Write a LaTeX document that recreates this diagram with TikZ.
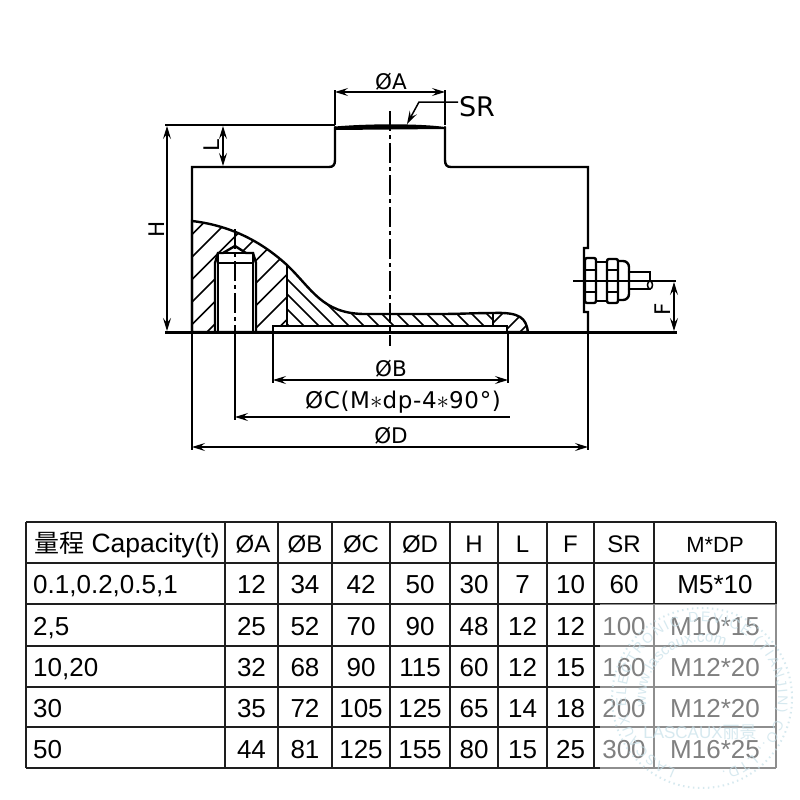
\documentclass[tikz,border=0pt]{standalone}
\usepackage{fontspec}
\setmainfont{Liberation Sans}
\newfontfamily\cadfont{DejaVu Sans}
\newfontfamily\cadwide[LetterSpace=3]{DejaVu Sans}
\newfontfamily\cjk{Noto Sans CJK SC}
\usetikzlibrary{arrows.meta,decorations.text}
\definecolor{sealblue}{HTML}{C6E0E9}
\definecolor{rulegray}{HTML}{1E1E1E}
\tikzset{
  outline/.style={line width=2.4pt, line cap=round},
  thinline/.style={line width=1.5pt},
  dimline/.style={line width=1.5pt, >={Stealth[length=13pt,width=8pt,inset=5pt]}},
  axisline/.style={line width=1.5pt, dash pattern=on 20pt off 4pt on 4pt off 4pt},
  hatchline/.style={line width=1.6pt},
  cadlabel/.style={inner sep=0pt, font=\cadfont\fontsize{21.5}{24}\selectfont},
  cell/.style={inner sep=0pt, text height=18pt, text depth=0pt, text=black, font=\fontsize{26}{28}\selectfont},
  headcell/.style={inner sep=0pt, text height=17pt, text depth=0pt, font=\fontsize{24}{28}\selectfont},
  gridrule/.style={line width=1.8pt, draw=rulegray},
  sealtext/.style={text=sealblue, inner sep=0pt}
}
\newcommand{\bodysection}{(192,221) .. controls (235,226) and (265,245) .. (287,265) .. controls (312,289) and (322,313) .. (363,314) -- (440,314) .. controls (460,314) and (475,313) .. (493,313) .. controls (520,312) and (526,318) .. (528,332) -- (192,332) -- cycle}
\begin{document}
\begin{tikzpicture}[x=1pt, y=-1pt]
    \useasboundingbox (0,0) rectangle (800,800);
    \fill[white] (0,0) rectangle (800,800);

    \coordinate (botL) at (192,332);
    \coordinate (botR) at (588,332);
    \coordinate (neckL) at (335,125);
    \coordinate (neckR) at (445,125);
    \coordinate (recL) at (273,332);
    \coordinate (recR) at (508,332);
    \coordinate (holeC) at (235,332);

    \begin{scope}
        \clip \bodysection;
        \foreach \c in {404,426.5,...,610}
            \draw[hatchline] (192,\c-192) -- (287,\c-287);
        \foreach \d in {-67,-52,...,180}
            \draw[hatchline] (287,287-\d) -- (493,493-\d);
        \foreach \c in {816,836,852}
            \draw[hatchline] (493,\c-493) -- (528,\c-528);
    \end{scope}
    \draw[outline] \bodysection;
    \draw[outline] (287,265) -- (287,326);
    \draw[outline] (493,313) -- (493,326);

    \draw[outline, fill=white] (273,332) -- (273,326) -- (507,326) -- (507,332);
    \draw[outline, fill=white] (215,332) -- (215,263) -- (218,253) -- (223,253) -- (235,246) -- (246,253) -- (253,253) -- (256,263) -- (256,332) -- cycle;
    \draw[outline] (218,253) -- (253,253);
    \draw[outline] (218,263) -- (252,263);
    \draw[outline] (218,253) -- (218,332);
    \draw[outline] (253,253) -- (253,332);

    \draw[outline] (192,332) -- (192,167) -- (329,167) .. controls (333,167) and (335,165) .. (335,160) -- (335,127);
    \draw[outline] (445,127) -- (445,160) .. controls (445,165) and (447,167) .. (451,167) -- (588,167) -- (588,248) -- (584,248) -- (584,312) -- (588,312) -- (588,332);
    \fill (335,126.5) .. controls (370,123.5) and (420,123.5) .. (445,127) -- (445,129) -- (335,130) -- cycle;
    \draw[line width=2.6pt] (165,332.5) -- (677,332.5);

    \draw[outline, rounded corners=2pt] (585,258) rectangle (596,303);
    \draw[outline] (585,270) -- (596,270);
    \draw[outline] (585,292) -- (596,292);
    \draw[outline] (596,262) -- (607,262);
    \draw[outline] (596,301) -- (607,301);
    \draw[outline, rounded corners=2pt] (607,259) rectangle (618,303);
    \draw[outline] (607,270) -- (618,270);
    \draw[outline] (607,292) -- (618,292);
    \draw[outline, rounded corners=6pt] (618,261) -- (629,261) -- (629,300) -- (618,300);
    \draw[outline] (629,272) -- (650,272) -- (650,281);
    \draw[outline] (629,289) -- (650,289);
    \draw[thinline] (650,285) ellipse (2.5 and 4);

    \draw[axisline] (390,111) -- (390,346);
    \draw[axisline] (235,229) -- (235,332);
    \draw[thinline] (573,281) -- (676,281);

    \draw[thinline] (neckL) -- (335,90);
    \draw[thinline] (neckR) -- (445,90);
    \draw[thinline] (165,125) -- (neckL);
    \draw[thinline] (botL) -- (192,450);
    \draw[thinline] (botR) -- (588,450);
    \draw[thinline] (holeC) -- (235,420);
    \draw[thinline] (recL) -- (273,383);
    \draw[thinline] (recR) -- (508,383);

    \draw[dimline, <->] (335,92) -- (445,92);
    \draw[dimline, <->] (167,126) -- (167,331);
    \draw[dimline, <->] (223,126) -- (223,166);
    \draw[dimline, <->] (674,282) -- (674,331);
    \draw[dimline, <->] (273,380) -- (508,380);
    \draw[dimline, <-] (235,417) -- (510,417);
    \draw[dimline, <->] (192,447) -- (588,447);
    \draw[dimline, ->] (458,102) -- (419,102) -- (407,124);

    \node[cadlabel] (labA) at (391,82) {ØA};
    \node[cadlabel, font=\cadfont\fontsize{27}{29}\selectfont] (labSR) at (477,107) {SR};
    \node[cadlabel, rotate=90] (labL) at (212,146) {L};
    \node[cadlabel, rotate=90] (labH) at (157,229) {H};
    \node[cadlabel, rotate=90] (labF) at (663,309) {F};
    \node[cadlabel] (labB) at (391,369) {ØB};
    \node[cadlabel, font=\cadwide\fontsize{23}{25}\selectfont] (labC) at (403,402) {ØC(M$\ast$dp-4$\ast$90°)};
    \node[cadlabel] (labD) at (391,436) {ØD};

    \foreach \rx in {26,225,278,332,390,450,498,547,594,654,776}
        \draw[gridrule] (\rx,522) -- (\rx,768);
    \foreach \ry in {522,563,604,646,687,727,768}
        \draw[gridrule] (26,\ry) -- (776,\ry);

    \node[headcell, anchor=west, font=\fontsize{26.5}{28}\selectfont] (headcap) at (34,544) {{\cjk\fontsize{25}{28}\selectfont 量程} Capacity(t)};
    \foreach \cx/\cname/\ctext in {253/hA/ØA,305/hB/ØB,361/hC/ØC,420/hD/ØD,474/hH/H,522.5/hL/L,570.5/hF/F,624/hSR/SR}
        \node[headcell] (\cname) at (\cx,544) {\ctext};
    \node[headcell, font=\fontsize{22}{26}\selectfont] (hM) at (715,544) {M*DP};

    \foreach \rw/\ry/\vcap/\vA/\vB/\vC/\vD/\vH/\vL/\vF/\vSR/\vM in {
        a/584/{0.1,0.2,0.5,1}/12/34/42/50/30/7/10/60/M5*10,
        b/626/{2,5}/25/52/70/90/48/12/12/100/M10*15,
        c/667/{10,20}/32/68/90/115/60/12/15/160/M12*20,
        d/708/30/35/72/105/125/65/14/18/200/M12*20,
        e/749/50/44/81/125/155/80/15/25/300/M16*25}{
        \node[cell, anchor=west] (cap\rw) at (33,\ry) {\vcap};
        \node[cell] (A\rw) at (251.5,\ry) {\vA};
        \node[cell] (B\rw) at (305,\ry) {\vB};
        \node[cell] (C\rw) at (361,\ry) {\vC};
        \node[cell] (D\rw) at (420,\ry) {\vD};
        \node[cell] (H\rw) at (474,\ry) {\vH};
        \node[cell] (L\rw) at (522.5,\ry) {\vL};
        \node[cell] (F\rw) at (570.5,\ry) {\vF};
        \node[cell] (SR\rw) at (624,\ry) {\vSR};
        \node[cell] (M\rw) at (715,\ry) {\vM};
    }

    \fill[white, opacity=.5] (600,603.5) rectangle (800,800);

    \begin{scope}[shift={(702,698)}, y=1pt, opacity=.7]
        \draw[sealblue, line width=2pt, dash pattern=on 1.5pt off 3.5pt] (0,0) circle (90);
        \path[decorate, decoration={text along path, text align={fit to path}, text={|\fontsize{14}{16}\selectfont\color{sealblue}|LASCAUX ELECTRONIC DEVICE (TIANJIN) CO., LTD.}}] (250:76) arc (250:-75:76);
        \path[decorate, decoration={text along path, text align=center, text={|\fontsize{15}{17}\selectfont\color{sealblue}|www.lascaux.com}}] (195:56) arc (195:60:56);
        \node[sealtext, font=\fontsize{17}{19}\selectfont] (sealname) at (-2,-34) {LASCAUX{\cjk 丽景}};
    \end{scope}
\end{tikzpicture}
\end{document}
